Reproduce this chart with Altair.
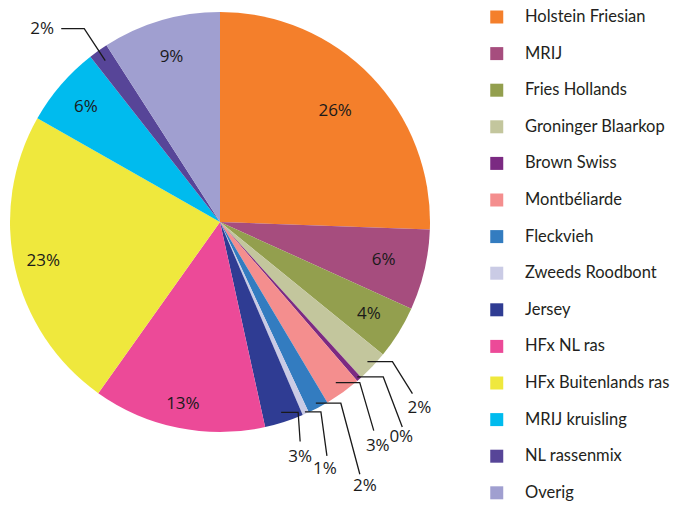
import math
import altair as alt
import pandas as pd

# ---------------- data ----------------
breeds = [
    "Holstein Friesian", "MRIJ", "Fries Hollands", "Groninger Blaarkop",
    "Brown Swiss", "Montbéliarde", "Fleckvieh", "Zweeds Roodbont", "Jersey",
    "HFx NL ras", "HFx Buitenlands ras", "MRIJ kruisling", "NL rassenmix", "Overig",
]
shares = [25.6, 6.2, 4.1, 2.4, 0.4, 2.8, 1.6, 0.5, 3.0, 13.3, 23.4, 6.2, 1.5, 9.1]
pct_labels = ["26%", "6%", "4%", "2%", "0%", "3%", "2%", "1%", "3%",
              "13%", "23%", "6%", "2%", "9%"]
colors = [
    "#F47F2B", "#A64D7E", "#939F4E", "#C3C69D", "#7B2A82", "#F48E8E",
    "#337CC0", "#CACBE5", "#2F3C93", "#EC4A98", "#EFE83D", "#00BBEE",
    "#574598", "#A09FD0",
]

# ---------------- layout (positions / styles only) ----------------
PAD_TOP = 6
W, H = 663, 488          # drawing area (canvas = H + PAD_TOP)
CX, CY = 212, 208        # pie centre inside the drawing area
R = 210                  # pie radius
# radius of inside labels, per slice index
inside_r = {0: 160, 1: 168, 2: 175, 9: 186, 10: 181, 11: 177, 13: 172}
# index -> (mode, start radius, horizontal length, diagonal (dx, dy), label offset (dx, dy))
callouts = {
    3: ("hd", 203, 25, (20, 32), (7, 14)),
    4: ("hd", 207, 26, (19, 50), (-1, 10)),
    5: ("hd", 198, 24, (14, 48), (4, 15)),
    6: ("hd", 205, 25, (19, 71), (5, 12)),
    7: ("hd", 208, 16, (6, 44), (-2, 13)),
    8: ("hd", 200, 17, (2, 29), (0, 16)),
    12: ("dh", 198, -23, (-21, -32), (-19, 0)),
}
FONT = "Open Sans"

# ---------------- derived tables ----------------
total = sum(shares)
pie_df = pd.DataFrame({"idx": range(len(breeds)), "breed": breeds, "share": shares})

text_rows, line_rows = [], []
cum = 0.0
for i, (b, s, lab) in enumerate(zip(breeds, shares, pct_labels)):
    mid = (cum + s / 2) / total * 2 * math.pi
    cum += s
    sx, sy = math.sin(mid), -math.cos(mid)
    if i in callouts:
        mode, r0, h, (ddx, ddy), (lx, ly) = callouts[i]
        p0 = (r0 * sx, r0 * sy)
        if mode == "hd":
            p1 = (p0[0] + h, p0[1])
            p2 = (p1[0] + ddx, p1[1] + ddy)
        else:
            p1 = (p0[0] + ddx, p0[1] + ddy)
            p2 = (p1[0] + h, p1[1])
        for k, p in enumerate([p0, p1, p2]):
            line_rows.append({"id": i, "seq": k, "x": p[0], "y": p[1]})
        text_rows.append({"label": lab, "x": p2[0] + lx, "y": p2[1] + ly})
    else:
        r = inside_r[i]
        text_rows.append({"label": lab, "x": r * sx, "y": r * sy})

text_df = pd.DataFrame(text_rows)
line_df = pd.DataFrame(line_rows)

xs = alt.Scale(domain=[-CX, W - CX], nice=False, zero=False)
ys = alt.Scale(domain=[-CY, H - CY], nice=False, zero=False, reverse=True)

pie = alt.Chart(pie_df).mark_arc(outerRadius=R).encode(
    theta=alt.Theta("share:Q", stack=True),
    order=alt.Order("idx:Q"),
    color=alt.Color(
        "breed:N",
        sort=breeds,
        scale=alt.Scale(domain=breeds, range=colors),
        legend=alt.Legend(
            title=None, orient="none", legendX=480.5, legendY=-5.25,
            direction="vertical", symbolType="square", symbolSize=169,
            symbolStrokeWidth=0, symbolOpacity=1, labelFont="Lato",
            labelFontSize=16.5, labelColor="#231f20", rowPadding=19.6,
            labelOffset=20, padding=0, labelLimit=300,
        ),
    ),
    x=alt.value(CX),
    y=alt.value(CY),
)

lines = alt.Chart(line_df).mark_line(color="#1a1a1a", strokeWidth=1.3).encode(
    x=alt.X("x:Q", scale=xs, axis=None),
    y=alt.Y("y:Q", scale=ys, axis=None),
    detail="id:N",
    order="seq:Q",
)

texts = alt.Chart(text_df).mark_text(
    font=FONT, fontSize=17, color="#1a1a1a", align="center", baseline="middle"
).encode(
    x=alt.X("x:Q", scale=xs, axis=None),
    y=alt.Y("y:Q", scale=ys, axis=None),
    text="label:N",
)

chart = alt.layer(pie, lines, texts).properties(
    width=W, height=H,
    padding={"top": PAD_TOP, "left": 0, "right": 0, "bottom": 0},
    autosize=alt.AutoSizeParams(type="none"),
).configure_view(strokeWidth=0)

chart.save("out.html", embed_options={"renderer": "svg", "actions": False})
